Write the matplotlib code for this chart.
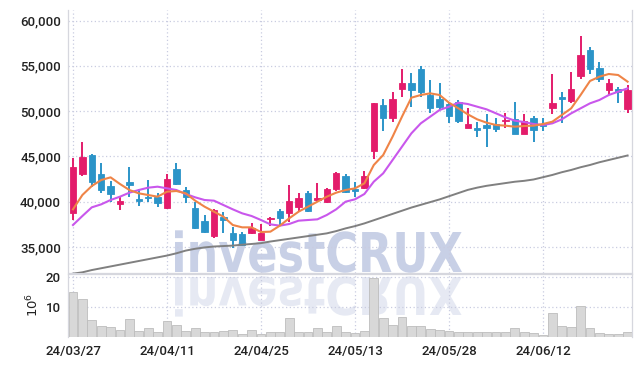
import matplotlib
matplotlib.use('Agg')
import matplotlib.pyplot as plt
import numpy as np
from matplotlib.textpath import TextPath
from matplotlib.patches import PathPatch
from matplotlib.font_manager import FontProperties
from matplotlib.transforms import Affine2D, IdentityTransform
import matplotlib.ticker as ticker

# daily candles, 2024-03-27 .. 2024-06-25
opens = [38785, 43090, 45151, 43054, 41729, 39777, 42170, 40330, 40551, 40514,
         39337, 43568, 41287, 39300, 37865, 36209, 38306, 36503, 36430, 36503,
         35767, 38100, 38968, 38784, 39373, 40956, 40183, 40000, 41361, 42833,
         41360, 41545, 45630, 50671, 49273, 52474, 53063, 54645, 51775, 51334,
         50782, 50965, 48169, 48132, 48463, 48573, 48868, 49125, 47506, 49273,
         48537, 50377, 51518, 51113, 53873, 56743, 54719, 52327, 52401, 50266]
highs = [44783, 46549, 45298, 44231, 42317, 40625, 43789, 41361, 42354, 40919,
         43054, 44231, 41655, 39925, 38490, 39153, 38895, 37239, 36650, 37607,
         37497, 38343, 39190, 41802, 40919, 41177, 42023, 41545, 43274, 43017,
         42207, 43385, 50855, 51297, 52069, 54609, 54167, 55013, 53431, 53063,
         51039, 51223, 50376, 48831, 49678, 49199, 49825, 50965, 49678, 49457,
         49273, 54094, 52143, 54351, 58289, 57111, 55381, 53505, 52695, 52879]
lows = [37975, 42869, 41655, 40919, 39925, 39079, 40551, 39557, 39999, 39447,
        39190, 41802, 39815, 36945, 36577, 36025, 36577, 34847, 35100, 36430,
        35767, 37313, 37423, 37791, 38895, 38900, 39999, 39815, 41213, 40919,
        40551, 41361, 44673, 47801, 48831, 51591, 50413, 51591, 49751, 50119,
        48647, 48647, 48095, 47101, 45998, 47727, 48095, 47450, 47450, 46623,
        47801, 49641, 48647, 50929, 53505, 54094, 53247, 51775, 50929, 49751]
closes = [43789, 44930, 42207, 41287, 40882, 40110, 41876, 40110, 40440, 39889,
          42465, 41986, 40478, 37129, 36687, 39079, 38012, 35804, 35215, 37055,
          36577, 38196, 38233, 40073, 40404, 38968, 40404, 41397, 43127, 41103,
          41213, 42833, 50855, 49273, 51297, 53063, 52327, 52143, 50303, 50413,
          49457, 48905, 48573, 47948, 48169, 48021, 49015, 47506, 48905, 47911,
          48390, 50855, 51370, 52401, 56191, 54683, 53541, 53063, 52143, 52327]

# moving averages as drawn
ma_short = [39153, 40735, 41729, 42391, 42685, 41950, 41287, 40919, 40735, 40551,
            41103, 41177, 40919, 40110, 39447, 38895, 38343, 37423, 37165, 37165,
            36650, 36687, 37350, 38159, 38895, 39447, 39999, 40551, 40993, 41287,
            41471, 42023, 44047, 45151, 47175, 49383, 51481, 51775, 51959, 51775,
            50929, 50303, 49641, 49089, 48721, 48463, 48390, 48279, 48353, 48390,
            48574, 48831, 49567, 50303, 51775, 53321, 53799, 54094, 53983, 53247]
ma_mid = [37423, 38417, 39373, 39704, 40183, 40551, 40993, 41287, 41545, 41655,
          41471, 41287, 40846, 40478, 40183, 40110, 39631, 39153, 38711, 38417,
          37975, 37497, 37350, 37534, 37902, 37975, 38049, 38527, 39153, 39999,
          40257, 40846, 42207, 43127, 44599, 46071, 47543, 48647, 49383, 50119,
          50487, 50929, 50782, 50487, 50193, 49751, 49309, 48941, 48794, 48573,
          48463, 48647, 49089, 49751, 50303, 50855, 51223, 51775, 52143, 52511]
ma_long = [32050, 32200, 32450, 32650, 32850, 33050, 33250, 33450, 33650, 33850,
           34050, 34300, 34600, 34800, 34950, 35050, 35100, 35150, 35250, 35330,
           35420, 35600, 35750, 35900, 36050, 36200, 36350, 36500, 36750, 37050,
           37300, 37600, 37950, 38300, 38650, 39000, 39350, 39650, 39950, 40250,
           40600, 40950, 41300, 41550, 41750, 41900, 42050, 42200, 42300, 42450,
           42700, 42950, 43250, 43500, 43800, 44050, 44350, 44600, 44850, 45100]

# volume in millions
volume = [15.0, 12.7, 5.8, 3.8, 3.3, 2.4, 6.0, 2.1, 3.0, 1.6,
          5.4, 4.1, 2.1, 3.0, 1.8, 1.8, 2.1, 2.4, 1.1, 2.4,
          1.1, 1.8, 1.6, 6.3, 1.8, 1.6, 3.0, 1.6, 3.6, 1.8,
          1.3, 2.0, 19.7, 6.3, 4.1, 6.7, 3.6, 3.6, 2.7, 2.3,
          2.0, 1.8, 1.8, 1.6, 1.8, 1.6, 1.8, 3.0, 1.8, 1.3,
          0.8, 8.0, 3.8, 3.3, 10.4, 3.0, 1.3, 1.1, 1.1, 1.8]

tick_idx = [0, 10, 20, 30, 40, 50]
tick_labels = ['24/03/27', '24/04/11', '24/04/25', '24/05/13', '24/05/28', '24/06/12']

UP = '#e31c6b'
DOWN = '#2b94c8'
GRID = '#c9cce0'
TXT = '#222222'

plt.rcParams['font.family'] = ['Roboto', 'DejaVu Sans']
plt.rcParams['font.weight'] = 'medium'

fig = plt.figure(figsize=(6.42, 3.66), dpi=100, facecolor='white')
W, H = 642, 366
ax = fig.add_axes([68 / W, 1 - 272.5 / H, (632 - 68) / W, (272.5 - 10) / H])
axv = fig.add_axes([68 / W, 1 - 337 / H, (632 - 68) / W, (337 - 273.5) / H])
ax.set_facecolor('none')
axv.set_facecolor('none')

x = np.arange(len(closes))
o = np.array(opens)
c = np.array(closes)
cols = [UP if cc >= oo else DOWN for oo, cc in zip(o, c)]

ax.vlines(x, lows, highs, colors=cols, linewidth=1.4, zorder=3)
ax.bar(x, np.maximum(np.abs(c - o), 60), bottom=np.minimum(o, c), width=0.68,
       color=cols, edgecolor=cols, linewidth=0.6, zorder=4)

ax.plot(x, ma_long, color='#808080', linewidth=1.4, zorder=5)
ax.plot(x, ma_mid, color='#c957ec', linewidth=1.5, zorder=5)
ax.plot(x, ma_short, color='#ef8447', linewidth=1.5, zorder=5)

ax.set_xlim(-0.53, 59.47)
ax.set_ylim(32180, 61160)
ax.yaxis.set_major_locator(ticker.MultipleLocator(5000))
ax.yaxis.set_major_formatter(ticker.StrMethodFormatter('{x:,.0f}'))
ax.set_xticks(tick_idx)
ax.tick_params(axis='x', labelbottom=False, length=0)
ax.tick_params(axis='y', length=0, pad=5, labelsize=9.5, labelcolor=TXT)
ax.grid(True, color=GRID, linestyle=(0, (1, 2)), linewidth=0.9, zorder=0)

axv.bar(x, volume, width=0.95, color='#d8d8d8', edgecolor='#bdbdbd', linewidth=0.6, zorder=3)
axv.set_xlim(-0.53, 59.47)
axv.set_ylim(0, 21.2)
axv.set_yticks([10, 20])
axv.set_xticks(tick_idx)
axv.set_xticklabels(tick_labels)
axv.tick_params(axis='x', length=0, pad=6, labelsize=9.5, labelcolor=TXT)
axv.tick_params(axis='y', length=0, pad=5, labelsize=9.5, labelcolor=TXT)
axv.grid(True, color=GRID, linestyle=(0, (1, 2)), linewidth=0.9, zorder=0)
axv.set_ylabel(r'$10^6$', fontsize=9.5, color=TXT, labelpad=3)

for a in (ax, axv):
    for s in a.spines.values():
        s.set_color('#d6d7de')
        s.set_linewidth(0.9)
ax.spines['top'].set_visible(False)
axv.spines['bottom'].set_visible(False)

# watermark with mirrored copy
fp = FontProperties(family='DejaVu Sans', weight='bold')
tp = TextPath((0, 0), 'investCRUX', size=50, prop=fp)
capx = TextPath((0, 0), 'X', size=50, prop=fp).get_extents()
bb = tp.get_extents()
sx = 287 / bb.width
sy = 40 / capx.height
t1 = Affine2D().translate(-bb.x0, 0).scale(sx, sy).translate(175, H - 272)
t2 = Affine2D().translate(-bb.x0, 0).scale(sx, -sy * 0.95).translate(175, H - 277)
fig.add_artist(PathPatch(t1.transform_path(tp), transform=IdentityTransform(),
                         facecolor='#c8d0e6', edgecolor='none', zorder=-1))
fig.add_artist(PathPatch(t2.transform_path(tp), transform=IdentityTransform(),
                         facecolor='#c8d0e6', edgecolor='none', alpha=0.45, zorder=-1))

fig.savefig('out.png', dpi=100, facecolor='white')
